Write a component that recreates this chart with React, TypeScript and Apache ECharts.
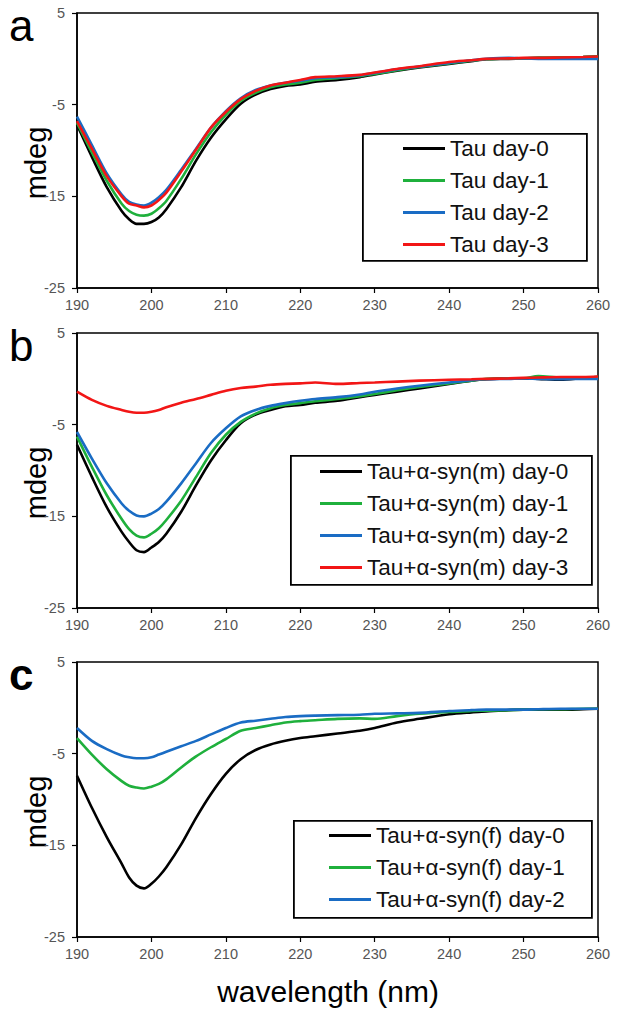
import React, { useEffect, useRef } from "react";
import * as echarts from "echarts";

const wavelengths = [190, 192, 194, 196, 197, 198, 199, 200, 201, 202, 204, 206, 208, 210, 212, 214, 216, 218, 220, 222, 225, 228, 230, 233, 236, 240, 243, 245, 248, 250, 252, 255, 258, 260];

const panelANames = ["Tau day-0", "Tau day-1", "Tau day-2", "Tau day-3"];
const a0 = [-7.2, -10.7, -14.0, -16.6, -17.5, -18.0, -18.0, -17.8, -17.3, -16.4, -14.0, -11.1, -8.6, -6.6, -4.9, -3.9, -3.3, -2.95, -2.8, -2.5, -2.3, -2.0, -1.7, -1.3, -0.95, -0.55, -0.25, -0.05, 0.0, 0.05, 0.1, 0.15, 0.2, 0.25];
const a1 = [-7.0, -10.2, -13.3, -15.8, -16.6, -17.0, -17.1, -16.9, -16.3, -15.5, -13.1, -10.4, -8.0, -6.1, -4.6, -3.7, -3.1, -2.8, -2.6, -2.3, -2.1, -1.9, -1.65, -1.25, -0.9, -0.5, -0.2, -0.05, 0.05, 0.05, 0.1, 0.15, 0.2, 0.25];
const a2 = [-6.3, -9.4, -12.5, -14.8, -15.6, -15.9, -16.0, -15.7, -15.1, -14.3, -12.1, -9.8, -7.5, -5.7, -4.3, -3.4, -2.9, -2.6, -2.4, -2.1, -2.0, -1.8, -1.55, -1.15, -0.85, -0.45, -0.15, 0.0, 0.1, 0.05, 0.0, 0.0, 0.0, 0.0];
const a3 = [-6.8, -9.8, -12.8, -15.0, -15.8, -16.0, -16.2, -16.0, -15.4, -14.6, -12.3, -9.9, -7.5, -5.8, -4.4, -3.5, -2.9, -2.6, -2.3, -2.0, -1.9, -1.75, -1.5, -1.1, -0.8, -0.35, -0.15, 0.0, 0.05, 0.1, 0.1, 0.15, 0.2, 0.25];

const panelBNames = ["Tau+α-syn(m) day-0", "Tau+α-syn(m) day-1", "Tau+α-syn(m) day-2", "Tau+α-syn(m) day-3"];
const b0 = [-7.2, -10.7, -14.0, -16.7, -17.8, -18.7, -18.9, -18.4, -17.8, -16.9, -14.5, -11.6, -8.9, -6.7, -4.85, -3.9, -3.4, -3.0, -2.85, -2.6, -2.4, -2.0, -1.75, -1.4, -1.05, -0.55, -0.2, -0.05, 0.05, 0.05, 0.0, -0.1, 0.1, 0.2];
const b1 = [-6.3, -9.6, -12.7, -15.3, -16.4, -17.1, -17.3, -16.9, -16.3, -15.4, -13.3, -10.7, -8.1, -6.1, -4.7, -3.8, -3.2, -2.85, -2.65, -2.45, -2.2, -1.9, -1.65, -1.25, -0.9, -0.5, -0.2, 0.0, 0.05, 0.07, 0.3, 0.15, 0.15, 0.2];
const b2 = [-5.8, -8.7, -11.4, -13.6, -14.4, -14.9, -15.0, -14.7, -14.2, -13.4, -11.4, -9.2, -7.0, -5.4, -4.1, -3.4, -2.95, -2.65, -2.4, -2.2, -2.0, -1.7, -1.4, -1.05, -0.75, -0.4, -0.15, -0.05, 0.0, 0.05, 0.0, -0.05, 0.0, 0.0];
const b3 = [-1.4, -2.3, -2.95, -3.4, -3.6, -3.7, -3.7, -3.6, -3.4, -3.1, -2.6, -2.2, -1.75, -1.3, -1.0, -0.85, -0.65, -0.55, -0.5, -0.4, -0.55, -0.45, -0.4, -0.3, -0.2, -0.1, -0.05, 0.0, 0.05, 0.1, 0.15, 0.2, 0.2, 0.25];

const panelCNames = ["Tau+α-syn(f) day-0", "Tau+α-syn(f) day-1", "Tau+α-syn(f) day-2"];
const c0 = [-7.4, -10.9, -14.1, -17.0, -18.5, -19.4, -19.7, -19.2, -18.4, -17.4, -14.9, -12.0, -9.4, -7.2, -5.6, -4.6, -4.0, -3.6, -3.3, -3.1, -2.8, -2.5, -2.2, -1.6, -1.2, -0.7, -0.5, -0.4, -0.25, -0.2, -0.2, -0.2, -0.15, -0.1];
const c1 = [-3.3, -5.1, -6.7, -8.0, -8.5, -8.7, -8.8, -8.6, -8.3, -7.8, -6.5, -5.3, -4.3, -3.4, -2.5, -2.2, -1.9, -1.6, -1.45, -1.35, -1.2, -1.15, -1.2, -0.9, -0.65, -0.45, -0.35, -0.3, -0.25, -0.2, -0.15, -0.15, -0.1, -0.1];
const c2 = [-2.2, -3.6, -4.5, -5.2, -5.4, -5.5, -5.5, -5.4, -5.1, -4.8, -4.2, -3.6, -2.9, -2.2, -1.6, -1.4, -1.2, -1.0, -0.9, -0.85, -0.8, -0.75, -0.65, -0.6, -0.55, -0.35, -0.25, -0.2, -0.2, -0.2, -0.15, -0.1, -0.1, -0.1];

const xMin = 190;
const xMax = 260;
const yMin = -25;
const yMax = 5;

const colors = ["#000000", "#1fb03c", "#1a6cc4", "#f21616"];
const FONT = "'Liberation Sans', Arial, sans-serif";

const panels = [
  { letter: "a", names: panelANames, data: [a0, a1, a2, a3], top: 13, legendBox: [362, 133, 224, 127], legendLeft: 403, legendTop: 137 },
  { letter: "b", names: panelBNames, data: [b0, b1, b2, b3], top: 333, legendBox: [290, 455, 301, 129], legendLeft: 320, legendTop: 460 },
  { letter: "c", names: panelCNames, data: [c0, c1, c2], top: 662, legendBox: [293, 820, 298, 97], legendLeft: 329, legendTop: 824 },
];

export default function App() {
  const ref = useRef<HTMLDivElement>(null);
  useEffect(() => {
    document.body.style.margin = "0";
    if (!ref.current) return;
    const chart = echarts.init(ref.current, null, { renderer: "svg" });
    const grids: any[] = [];
    const xAxes: any[] = [];
    const yAxes: any[] = [];
    const series: any[] = [];
    const legends: any[] = [];
    const graphics: any[] = [];
    panels.forEach((p, i) => {
      grids.push({
        left: 77,
        width: 521,
        top: p.top,
        height: 275,
        show: true,
        borderColor: "#000",
        borderWidth: 1.5,
        backgroundColor: "transparent",
      });
      xAxes.push({
        type: "value",
        gridIndex: i,
        min: xMin,
        max: xMax,
        interval: 10,
        splitLine: { show: false },
        axisLine: { onZero: false, lineStyle: { color: "#000", width: 1.5 } },
        axisTick: { show: true, inside: false, length: 5, lineStyle: { color: "#000", width: 1.2 } },
        axisLabel: { color: "#555", fontSize: 14.5, fontFamily: FONT, margin: 9 },
      });
      yAxes.push({
        type: "value",
        gridIndex: i,
        min: yMin,
        max: yMax,
        interval: 10,
        splitLine: { show: false },
        axisLine: { show: true, onZero: false, lineStyle: { color: "#000", width: 1.5 } },
        axisTick: { show: true, inside: false, length: 5, lineStyle: { color: "#000", width: 1.2 } },
        axisLabel: { color: "#555", fontSize: 14.5, fontFamily: FONT, margin: 12 },
      });
      p.names.forEach((name, k) => {
        series.push({
          type: "line",
          name,
          xAxisIndex: i,
          yAxisIndex: i,
          data: wavelengths.map((w, j) => [w, p.data[k][j]]),
          showSymbol: false,
          symbol: "none",
          smooth: 0.3,
          lineStyle: { color: colors[k], width: 2.6 },
          itemStyle: { color: colors[k] },
          z: 10 + k,
        });
      });
      legends.push({
        data: p.names,
        orient: "vertical",
        left: p.legendLeft,
        top: p.legendTop,
        padding: 0,
        itemGap: 9,
        itemWidth: 42,
        itemHeight: 3,
        icon: "rect",
        itemTextGap: 3,
        selectedMode: false,
        z: 60,
        textStyle: { color: "#111", fontSize: 22.5, fontFamily: FONT, lineHeight: 23 },
      });
      const [bx, by, bw, bh] = p.legendBox;
      graphics.push({
        type: "rect",
        left: bx,
        top: by,
        shape: { width: bw, height: bh },
        style: { fill: "#fff", stroke: "#000", lineWidth: 1.8 },
        z: 20,
      });
      graphics.push({
        type: "text",
        left: 9,
        top: p.top - 10,
        style: { text: p.letter, fontSize: 44, fontFamily: FONT, fill: "#000", fontWeight: p.letter === "c" ? "bold" : "normal" },
      });
      graphics.push({
        type: "text",
        x: 36,
        y: p.top + 150,
        rotation: Math.PI / 2,
        style: { text: "mdeg", fontSize: 29, fontFamily: FONT, fill: "#000", align: "center", verticalAlign: "middle" },
      });
    });
    graphics.push({
      type: "text",
      x: 328,
      y: 991,
      style: { text: "wavelength (nm)", fontSize: 30, fontFamily: FONT, fill: "#000", align: "center", verticalAlign: "middle" },
    });
    chart.setOption({
      animation: false,
      backgroundColor: "#fff",
      grid: grids,
      xAxis: xAxes,
      yAxis: yAxes,
      series,
      legend: legends,
      graphic: { elements: graphics },
    });
    return () => chart.dispose();
  }, []);
  return <div ref={ref} style={{ width: 618, height: 1013 }} />;
}
